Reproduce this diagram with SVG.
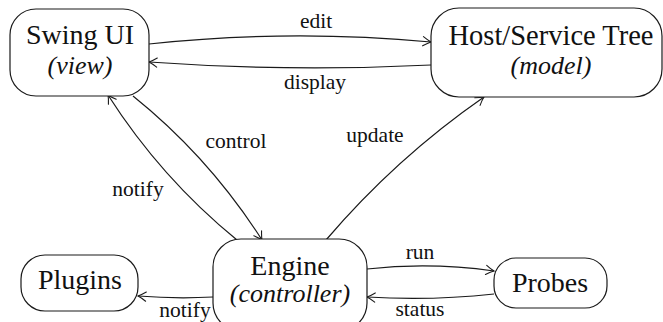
<svg xmlns="http://www.w3.org/2000/svg" width="663" height="322" viewBox="0 0 663 322">
  <style>
    .box { fill: #fff; stroke: #1a1a1a; stroke-width: 1.2; }
    .name { font-family: 'Liberation Serif', 'Times New Roman', serif; font-size: 28px; fill: #111; text-anchor: middle; }
    .role { font-family: 'Liberation Serif', 'Times New Roman', serif; font-style: italic; font-size: 26px; fill: #111; text-anchor: middle; }
    .lbl { font-family: 'Liberation Serif', 'Times New Roman', serif; font-size: 21.5px; fill: #111; text-anchor: middle; }
    .edge { fill: none; stroke: #1a1a1a; stroke-width: 1.2; marker-end: url(#arrow); }
  </style>
  <defs>
    <!-- open curved arrowhead shared by every connector -->
    <marker id="arrow" viewBox="-10 -6 12 12" refX="0" refY="0" markerWidth="12" markerHeight="12" markerUnits="userSpaceOnUse" orient="auto">
      <path d="M-8,-4.6 Q-3,-1.2 0,0 Q-3,1.2 -8,4.6" fill="none" stroke="#1a1a1a" stroke-width="1.1" stroke-linecap="round"/>
    </marker>
  </defs>

  <g id="connectors">
    <path class="edge" d="M149,44 Q290,29 431,42"/>
    <path class="edge" d="M431,65 Q290,72 149,62"/>
    <path class="edge" d="M133,96 Q209,157 262,240"/>
    <path class="edge" d="M237,240 Q161,178 108,95"/>
    <path class="edge" d="M326,240 Q396,158 484,97"/>
    <path class="edge" d="M367,269 Q430,262 494,271"/>
    <path class="edge" d="M494,294 Q430,301 367,297"/>
    <path class="edge" d="M213,297 Q176,299 138,296"/>
    <text class="lbl" x="316" y="28">edit</text>
    <text class="lbl" x="315" y="89">display</text>
    <text class="lbl" x="236" y="148">control</text>
    <text class="lbl" x="138" y="196">notify</text>
    <text class="lbl" x="375" y="142">update</text>
    <text class="lbl" x="420" y="259">run</text>
    <text class="lbl" x="420" y="316">status</text>
    <text class="lbl" x="185" y="317">notify</text>
  </g>

  <g id="swing-ui">
    <rect class="box" x="10" y="9" width="139" height="87" rx="26"/>
    <text class="name" x="80" y="44">Swing UI</text>
    <text class="role" x="80" y="74">(view)</text>
  </g>

  <g id="host-service-tree">
    <rect class="box" x="431" y="8" width="231" height="89" rx="28"/>
    <text class="name" x="551" y="45" style="font-size:28.5px">Host/Service Tree</text>
    <text class="role" x="551" y="74">(model)</text>
  </g>

  <g id="engine">
    <rect class="box" x="213" y="239" width="154" height="92" rx="28"/>
    <text class="name" x="290" y="275">Engine</text>
    <text class="role" x="290" y="302">(controller)</text>
  </g>

  <g id="plugins">
    <rect class="box" x="21" y="255" width="117" height="56" rx="24"/>
    <text class="name" x="80" y="289">Plugins</text>
  </g>

  <g id="probes">
    <rect class="box" x="494" y="258" width="113" height="50" rx="22"/>
    <text class="name" x="550" y="292">Probes</text>
  </g>
</svg>
